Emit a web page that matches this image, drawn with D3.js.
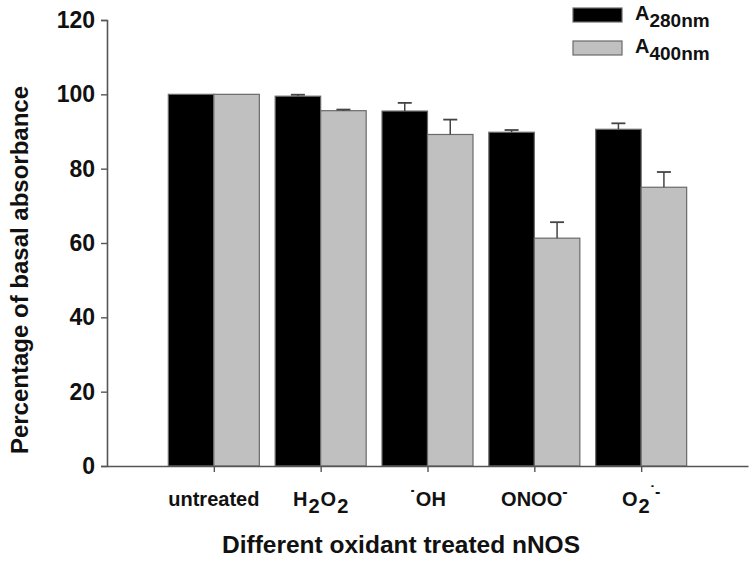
<!DOCTYPE html>
<html><head><meta charset="utf-8">
<script src="https://cdn.jsdelivr.net/npm/d3@7"></script>
<style>body{margin:0;background:#fff}svg{display:block}text{font-family:"Liberation Sans",Arial,sans-serif}</style>
</head><body><svg id="c" width="750" height="561"></svg>
<script>
const categories = ["untreated", "H2O2", "OH", "ONOO", "O2"];
const a280 = [100, 99.5, 95.5, 89.8, 90.6];
const a280Err = [0, 0.4, 2.2, 0.6, 1.6];
const a400 = [100, 95.6, 89.2, 61.3, 75.0];
const a400Err = [0, 0.3, 4.0, 4.3, 4.1];
const yTicks = [0, 20, 40, 60, 80, 100, 120];
const seriesNames = ["280nm", "400nm"];
const seriesColors = ["#000000", "#c0c0c0"];

const svg = d3.select("#c");
const x0 = 107, x1 = 748, yTop = 20, yBot = 466;
const x = d3.scalePoint().domain(categories).range([x0, x1]).padding(1);
const y = d3.scaleLinear().domain([0, 120]).range([yBot, yTop]);
const bw = 45.5;

const series = [
  {vals: a280, err: a280Err, color: seriesColors[0], off: -bw},
  {vals: a400, err: a400Err, color: seriesColors[1], off: 0}
];

series.forEach(s => {
  const g = svg.append("g");
  g.selectAll("rect").data(categories).join("rect")
    .attr("x", d => x(d) + s.off)
    .attr("y", (d, i) => y(s.vals[i]))
    .attr("width", bw)
    .attr("height", (d, i) => yBot - y(s.vals[i]))
    .attr("fill", s.color)
    .attr("stroke", "#6a6a6a").attr("stroke-width", 1.2);
  categories.forEach((c, i) => {
    if (s.err[i] <= 0) return;
    const cx = x(c) + s.off + bw / 2;
    const yt = y(s.vals[i] + s.err[i]);
    g.append("line").attr("x1", cx).attr("x2", cx).attr("y1", y(s.vals[i])).attr("y2", yt)
      .attr("stroke", "#444").attr("stroke-width", 1.5);
    g.append("line").attr("x1", cx - 7).attr("x2", cx + 7).attr("y1", yt).attr("y2", yt)
      .attr("stroke", "#444").attr("stroke-width", 1.8);
  });
});

// y axis
const ya = svg.append("g").attr("transform", `translate(${x0},0)`)
  .call(d3.axisLeft(y).tickValues(yTicks).tickSize(6).tickPadding(6));
ya.select(".domain").attr("stroke", "#555").attr("stroke-width", 1.6);
ya.selectAll(".tick line").attr("stroke", "#555").attr("stroke-width", 1.4);
ya.selectAll(".tick text").attr("font-size", 23).attr("font-weight", "bold").attr("fill", "#111")
  .style("font-family", "Liberation Sans, Arial, sans-serif");

// x axis
const xa = svg.append("g").attr("transform", `translate(0,${yBot})`)
  .call(d3.axisBottom(x).tickSize(6).tickSizeOuter(0).tickFormat(""));
xa.select(".domain").attr("stroke", "#555").attr("stroke-width", 1.6);
xa.selectAll(".tick line").attr("stroke", "#555").attr("stroke-width", 1.4);

// category labels with sub/superscripts
const labelY = 506;
const lf = 20;
function lab(cat, parts) {
  const t = svg.append("text").attr("x", x(cat)).attr("y", labelY)
    .attr("text-anchor", "middle").attr("font-size", lf).attr("font-weight", "bold").attr("fill", "#111");
  parts.forEach(p => {
    const ts = t.append("tspan").text(p.t);
    if (p.dy) ts.attr("dy", p.dy);
    if (p.dx) ts.attr("dx", p.dx);
    if (p.fs) ts.attr("font-size", p.fs);
  });
}
lab("untreated", [{t: "untreated"}]);
lab("H2O2", [{t: "H"}, {t: "2", dy: 7, dx: 1}, {t: "O", dy: -7, dx: 1}, {t: "2", dy: 7, dx: 1}]);
lab("OH", [{t: "˙", dy: -1}, {t: "OH", dy: 1}]);
lab("ONOO", [{t: "ONOO"}, {t: "-", dy: -9, fs: 16}]);
lab("O2", [{t: "O"}, {t: "2", dy: 7, dx: 1}, {t: "˙", dy: -16, fs: 16}, {t: "-", fs: 16}]);

// axis titles
svg.append("text").attr("x", 401).attr("y", 553).attr("text-anchor", "middle")
  .attr("font-size", 24.5).attr("font-weight", "bold").attr("fill", "#111")
  .text("Different oxidant treated nNOS");
svg.append("text").attr("transform", "translate(28,270) rotate(-90)").attr("text-anchor", "middle")
  .attr("font-size", 24).attr("font-weight", "bold").attr("fill", "#111")
  .text("Percentage of basal absorbance");

// legend
const leg = svg.append("g");
seriesNames.forEach((n, i) => {
  const ly = 8 + i * 33;
  leg.append("rect").attr("x", 573).attr("y", ly).attr("width", 49).attr("height", 14)
    .attr("fill", seriesColors[i]).attr("stroke", "#6a6a6a").attr("stroke-width", 1.2);
  const t = leg.append("text").attr("x", 635).attr("y", ly + 12).attr("font-size", 20)
    .attr("font-weight", "bold").attr("fill", "#111");
  t.append("tspan").text("A");
  t.append("tspan").attr("dy", 7).attr("font-size", 19).text(n);
});
</script></body></html>
